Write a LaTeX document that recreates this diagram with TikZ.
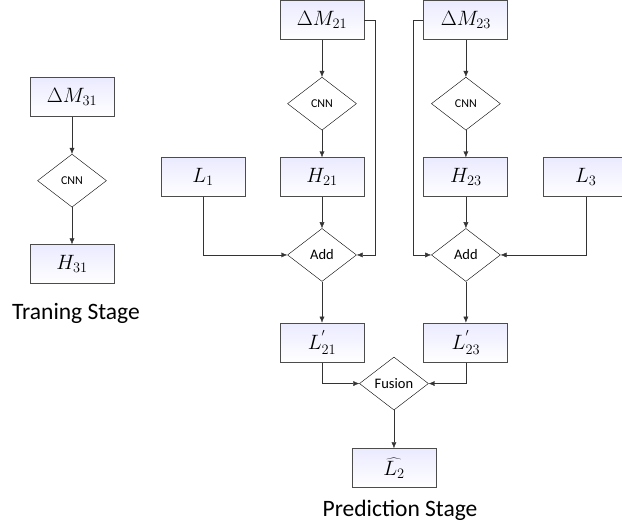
\documentclass[tikz,border=0pt]{standalone}
\usepackage{fontspec}
\setmainfont{Carlito}
\usetikzlibrary{shapes.geometric, arrows.meta, positioning, calc}
\tikzstyle{block} = [rectangle, draw=black!70, line width=0.9pt, text centered, minimum width=84pt, minimum height=39pt, top color=blue!8, bottom color=white, font=\fontsize{22}{24}\selectfont]
\tikzstyle{decision} = [diamond, draw, fill=white, text centered, minimum width=69pt, minimum height=53pt, inner sep=0pt, aspect=1.3]
\tikzstyle{line} = [draw=black!80, -{Latex[length=6pt, width=5pt]}]
\tikzstyle{stage} = [font=\fontsize{23.5}{26}\selectfont]

\begin{document}
\begin{tikzpicture}[x=1pt, y=1pt]
	\useasboundingbox (0,0) rectangle (622,-527);

	% Training stage
	\node (dm31) [block] at (72,-97) {$\Delta M_{31}$};
	\node (cnn31) [decision, below=37pt of dm31, font=\fontsize{12}{14}\selectfont] {CNN};
	\node (h31) [block, below=37pt of cnn31] {$H_{31}$};
	\node (train) [stage] at (76,-313) {Traning Stage};

	% Prediction stage - left branch
	\node (dm21) [block] at (322,-20) {$\Delta M_{21}$};
	\node (cnn21) [decision, below=37pt of dm21, font=\fontsize{12}{14}\selectfont] {CNN};
	\node (h21) [block, below=27pt of cnn21] {$H_{21}$};
	\node (l1) [block, left=34pt of h21] {$L_{1}$};
	\node (add21) [decision, below=31pt of h21, font=\fontsize{14.5}{16}\selectfont] {Add};
	\node (l21) [block, below=41pt of add21] {$L_{21}^{'}$};

	% Prediction stage - right branch
	\node (dm23) [block, right=59pt of dm21] {$\Delta M_{23}$};
	\node (cnn23) [decision, below=37pt of dm23, font=\fontsize{12}{14}\selectfont] {CNN};
	\node (h23) [block, below=27pt of cnn23] {$H_{23}$};
	\node (l3) [block, right=35pt of h23] {$L_{3}$};
	\node (add23) [decision, below=31pt of h23, font=\fontsize{14.5}{16}\selectfont] {Add};
	\node (l23) [block, below=41pt of add23] {$L_{23}^{'}$};

	% Fusion
	\node (fusion) [decision, font=\fontsize{14.5}{16}\selectfont] at ($(l21.south)!0.5!(l23.south)+(0,-21)$) {Fusion};
	\node (l2) [block, below=38pt of fusion] {$\widehat{L_{2}}$};
	\node (pred) [stage] at (400,-510) {Prediction Stage};

	% Arrows - training
	\draw[line] (dm31) -- (cnn31);
	\draw[line] (cnn31) -- (h31);

	% Arrows - left branch
	\draw[line] (dm21) -- (cnn21);
	\draw[line] (cnn21) -- (h21);
	\draw[line] (h21) -- (add21);
	\draw[line] (l1.south) |- (add21.west);
	\draw[line] (dm21.east) -- ++(11,0) |- (add21.east);
	\draw[line] (add21) -- (l21);

	% Arrows - right branch
	\draw[line] (dm23) -- (cnn23);
	\draw[line] (cnn23) -- (h23);
	\draw[line] (h23) -- (add23);
	\draw[line] (l3.south) |- (add23.east);
	\draw[line] (dm23.west) -- ++(-10,0) |- (add23.west);
	\draw[line] (add23) -- (l23);

	% Fusion arrows
	\draw[line] (l21.south) |- (fusion.west);
	\draw[line] (l23.south) |- (fusion.east);
	\draw[line] (fusion) -- (l2);

\end{tikzpicture}
\end{document}
